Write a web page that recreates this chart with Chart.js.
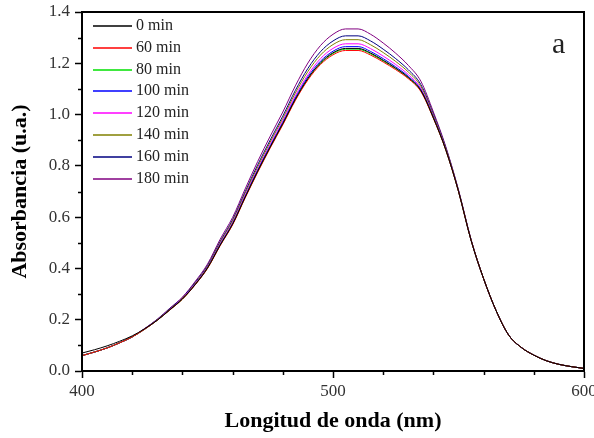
<!DOCTYPE html>
<html>
<head>
<meta charset="utf-8">
<script src="https://cdn.jsdelivr.net/npm/chart.js@4.4.0/dist/chart.umd.min.js"></script>
<style>
  html, body { margin: 0; padding: 0; background: #fff; }
  #wrap { width: 594px; height: 438px; }
</style>
</head>
<body>
<div id="wrap"><canvas id="spectra"></canvas></div>
<script>
// Wavelengths (nm), every 5 nm
const wavelengths = [400, 405, 410, 415, 420, 425, 430, 435, 440, 445, 450, 455, 460, 465, 470, 475, 480, 485, 490, 495,
  500, 505, 510, 515, 520, 525, 530, 535, 540, 545, 550, 555, 560, 565, 570, 575, 580, 585, 590, 595, 600];

// Absorbance, one list per irradiation time
const abs0 = [0.070, 0.083, 0.098, 0.116, 0.137, 0.165, 0.198, 0.239, 0.281, 0.336, 0.402, 0.490, 0.573, 0.678, 0.779, 0.874, 0.965, 1.060, 1.141, 1.202,
  1.241, 1.258, 1.258, 1.240, 1.212, 1.181, 1.145, 1.094, 0.987, 0.861, 0.701, 0.510, 0.360, 0.235, 0.140, 0.092, 0.062, 0.040, 0.026, 0.017, 0.010];
const abs60 = [0.060, 0.074, 0.090, 0.110, 0.133, 0.163, 0.198, 0.238, 0.280, 0.335, 0.400, 0.488, 0.570, 0.675, 0.775, 0.870, 0.960, 1.055, 1.135, 1.195,
  1.233, 1.250, 1.250, 1.232, 1.205, 1.175, 1.140, 1.090, 0.985, 0.860, 0.700, 0.510, 0.360, 0.235, 0.140, 0.092, 0.062, 0.040, 0.026, 0.017, 0.010];
const abs80 = [0.060, 0.074, 0.090, 0.110, 0.133, 0.163, 0.198, 0.238, 0.280, 0.336, 0.401, 0.490, 0.572, 0.677, 0.778, 0.873, 0.963, 1.058, 1.139, 1.199,
  1.238, 1.255, 1.255, 1.237, 1.209, 1.179, 1.143, 1.092, 0.987, 0.861, 0.700, 0.510, 0.360, 0.235, 0.140, 0.092, 0.062, 0.040, 0.026, 0.017, 0.010];
const abs100 = [0.060, 0.074, 0.090, 0.110, 0.133, 0.163, 0.199, 0.239, 0.282, 0.337, 0.403, 0.493, 0.575, 0.681, 0.783, 0.878, 0.969, 1.065, 1.147, 1.208,
  1.247, 1.265, 1.265, 1.246, 1.218, 1.186, 1.149, 1.097, 0.990, 0.862, 0.701, 0.510, 0.360, 0.235, 0.140, 0.092, 0.062, 0.040, 0.026, 0.017, 0.010];
const abs120 = [0.060, 0.074, 0.090, 0.110, 0.133, 0.164, 0.199, 0.240, 0.283, 0.339, 0.405, 0.496, 0.579, 0.686, 0.788, 0.884, 0.976, 1.073, 1.155, 1.218,
  1.258, 1.276, 1.276, 1.257, 1.228, 1.195, 1.156, 1.102, 0.993, 0.864, 0.702, 0.511, 0.360, 0.235, 0.140, 0.092, 0.062, 0.040, 0.026, 0.017, 0.010];
const abs140 = [0.060, 0.074, 0.090, 0.110, 0.133, 0.164, 0.200, 0.241, 0.284, 0.341, 0.408, 0.501, 0.585, 0.693, 0.796, 0.893, 0.985, 1.084, 1.168, 1.232,
  1.273, 1.292, 1.292, 1.272, 1.242, 1.207, 1.166, 1.110, 0.998, 0.866, 0.703, 0.511, 0.360, 0.235, 0.140, 0.092, 0.062, 0.040, 0.026, 0.017, 0.010];
const abs160 = [0.060, 0.074, 0.090, 0.110, 0.133, 0.165, 0.201, 0.243, 0.286, 0.344, 0.411, 0.505, 0.590, 0.699, 0.804, 0.901, 0.994, 1.094, 1.180, 1.245,
  1.287, 1.307, 1.307, 1.287, 1.255, 1.218, 1.175, 1.117, 1.002, 0.869, 0.704, 0.512, 0.360, 0.235, 0.140, 0.092, 0.062, 0.040, 0.026, 0.017, 0.010];
const abs180 = [0.060, 0.074, 0.090, 0.110, 0.133, 0.166, 0.202, 0.245, 0.288, 0.348, 0.417, 0.513, 0.599, 0.710, 0.817, 0.916, 1.010, 1.112, 1.201, 1.269,
  1.313, 1.334, 1.334, 1.313, 1.279, 1.239, 1.192, 1.130, 1.010, 0.873, 0.706, 0.513, 0.360, 0.235, 0.140, 0.092, 0.062, 0.040, 0.026, 0.017, 0.010];

const seriesLabels = ['0 min', '60 min', '80 min', '100 min', '120 min', '140 min', '160 min', '180 min'];
const seriesValues = [abs0, abs60, abs80, abs100, abs120, abs140, abs160, abs180];
const seriesColors = ['#000000', '#ff0000', '#00e000', '#0000ff', '#ff00ff', '#808000', '#000080', '#800080'];

const xLabels = [400, 500, 600];
const panelLetter = 'a';

const serif = '"Liberation Serif", "Times New Roman", serif';

// Build the datasets from the arrays above.
const datasets = seriesValues.map(function (values, i) {
    return {
        label: seriesLabels[i],
        data: values.map(function (v, j) { return { x: wavelengths[j], y: v }; }),
        borderColor: seriesColors[i],
        backgroundColor: seriesColors[i],
        borderWidth: 1,
        pointRadius: 0,
        fill: false,
        cubicInterpolationMode: 'monotone'
    };
});

// Frame, minor ticks, inner legend and panel letter.
const decorations = {
    id: 'decorations',
    afterDraw: function (chart) {
        const ctx = chart.ctx;
        const area = chart.chartArea;
        const xs = chart.scales.x;
        const ys = chart.scales.y;
        ctx.save();

        // minor ticks
        ctx.strokeStyle = '#000';
        ctx.lineWidth = 1.5;
        ctx.beginPath();
        xs.ticks.forEach(function (t) {
            if (xLabels.indexOf(Math.round(t.value)) === -1) {
                const px = Math.round(xs.getPixelForValue(t.value)) + 0.5;
                ctx.moveTo(px, area.bottom);
                ctx.lineTo(px, area.bottom + 4);
            }
        });
        ys.ticks.forEach(function (t) {
            if (Math.round(t.value * 10) % 2 === 1) {
                const py = Math.round(ys.getPixelForValue(t.value)) + 0.5;
                ctx.moveTo(area.left, py);
                ctx.lineTo(area.left - 4, py);
            }
        });
        ctx.stroke();

        // box
        ctx.lineWidth = 2;
        ctx.strokeRect(area.left, area.top, area.right - area.left, area.bottom - area.top);

        // legend
        ctx.font = '16px ' + serif;
        ctx.textBaseline = 'middle';
        ctx.textAlign = 'left';
        seriesLabels.forEach(function (label, i) {
            const y = Math.round(area.top + 14 + i * 21.8);
            ctx.strokeStyle = seriesColors[i];
            ctx.lineWidth = 1.5;
            ctx.beginPath();
            ctx.moveTo(area.left + 11, y);
            ctx.lineTo(area.left + 50, y);
            ctx.stroke();
            ctx.fillStyle = '#222';
            ctx.fillText(label, area.left + 54, y);
        });

        // panel letter
        ctx.font = '30px ' + serif;
        ctx.fillStyle = '#222';
        ctx.fillText(panelLetter, area.right - 32, area.top + 33);
        ctx.restore();
    }
};

const ctx = document.getElementById('spectra').getContext('2d');
const spectraChart = new Chart(ctx, {
    type: 'line',
    data: { datasets: datasets },
    options: {
        responsive: true,
        maintainAspectRatio: false,
        animation: false,
        layout: { padding: { top: 12, right: 10, left: 0, bottom: 0 } },
        scales: {
            x: {
                type: 'linear',
                min: 400,
                max: 600,
                ticks: {
                    stepSize: 20,
                    autoSkip: false,
                    maxRotation: 0,
                    color: '#333',
                    padding: 3,
                    font: { family: serif, size: 17 },
                    callback: function (v) {
                        return xLabels.indexOf(Math.round(v)) !== -1 ? String(Math.round(v)) : '';
                    }
                },
                grid: {
                    drawOnChartArea: false,
                    tickLength: 7,
                    tickWidth: 1.5,
                    tickColor: function (c) {
                        return xLabels.indexOf(Math.round(c.tick.value)) !== -1 ? '#000' : 'rgba(0,0,0,0)';
                    }
                },
                border: { color: '#000', width: 2 },
                title: {
                    display: true,
                    text: 'Longitud de onda (nm)',
                    color: '#000',
                    font: { family: serif, size: 22, weight: 'bold' },
                    padding: { top: 0, bottom: 3 }
                },
                afterFit: function (scale) {
                    scale.height = 67;
                    scale.paddingLeft = 0;
                    scale.paddingRight = 0;
                }
            },
            y: {
                min: 0,
                max: 1.4,
                ticks: {
                    stepSize: 0.1,
                    autoSkip: false,
                    color: '#333',
                    padding: 5,
                    font: { family: serif, size: 17 },
                    callback: function (v) {
                        return Math.round(v * 10) % 2 === 0 ? v.toFixed(1) : '';
                    }
                },
                grid: {
                    drawOnChartArea: false,
                    tickLength: 7,
                    tickWidth: 1.5,
                    tickColor: function (c) {
                        return Math.round(c.tick.value * 10) % 2 === 0 ? '#000' : 'rgba(0,0,0,0)';
                    }
                },
                border: { color: '#000', width: 2 },
                title: {
                    display: true,
                    text: 'Absorbancia (u.a.)',
                    color: '#000',
                    font: { family: serif, size: 22, weight: 'bold' },
                    padding: { top: 7, bottom: 0 }
                },
                afterFit: function (scale) {
                    scale.width = 82;
                    scale.paddingTop = 0;
                    scale.paddingBottom = 0;
                }
            }
        },
        plugins: {
            legend: { display: false },
            tooltip: { enabled: false }
        }
    },
    plugins: [decorations]
});
</script>
</body>
</html>
